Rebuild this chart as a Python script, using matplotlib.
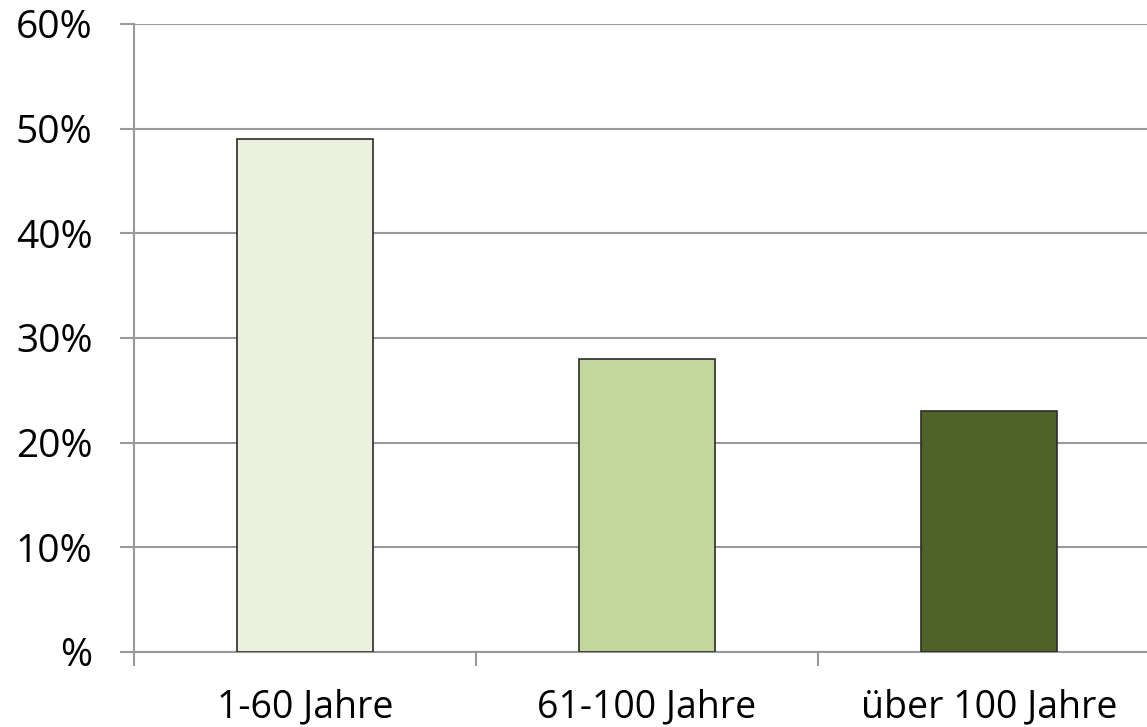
import matplotlib

matplotlib.use("Agg")
import matplotlib.pyplot as plt

# data
categories = ["1-60 Jahre", "61-100 Jahre", "über 100 Jahre"]
shares = [49, 28, 23]
bar_colors = ["#EBF1DE", "#C3D69B", "#4F6228"]
y_ticks = [0, 10, 20, 30, 40, 50, 60]
y_labels = ["%" if v == 0 else f"{v}%" for v in y_ticks]

plt.rcParams["font.family"] = ["Open Sans", "DejaVu Sans"]

fig = plt.figure(figsize=(11.47, 7.27), dpi=100)
# the plot area runs past the right edge of the picture, as in the original
ax = fig.add_axes([134 / 1147, 75 / 727, 1026 / 1147, 628 / 727])

grid_col = "#999999"
x = range(len(categories))
ax.bar(x, shares, width=0.4, color=bar_colors, edgecolor="#2b2b2b",
       linewidth=1.2, zorder=3)

ax.set_xlim(-0.5, len(categories) - 0.5)
ax.set_ylim(0, 60)
ax.set_yticks(y_ticks)
ax.set_yticklabels(y_labels)
ax.yaxis.grid(True, color=grid_col, linewidth=1.5, zorder=0)

ax.set_xticks(list(x))
ax.set_xticklabels(categories)
ax.set_xticks([i - 0.5 for i in range(len(categories) + 1)], minor=True)
ax.tick_params(axis="x", which="major", length=0, pad=26, labelsize=27)
ax.tick_params(axis="x", which="minor", length=10, width=1.5, color=grid_col)
ax.tick_params(axis="y", length=10, width=1.5, color=grid_col, pad=20,
               labelsize=28)

for side in ("top", "right"):
    ax.spines[side].set_visible(False)
for side in ("left", "bottom"):
    ax.spines[side].set_color(grid_col)
    ax.spines[side].set_linewidth(1.5)

fig.savefig("out.png", dpi=100)
